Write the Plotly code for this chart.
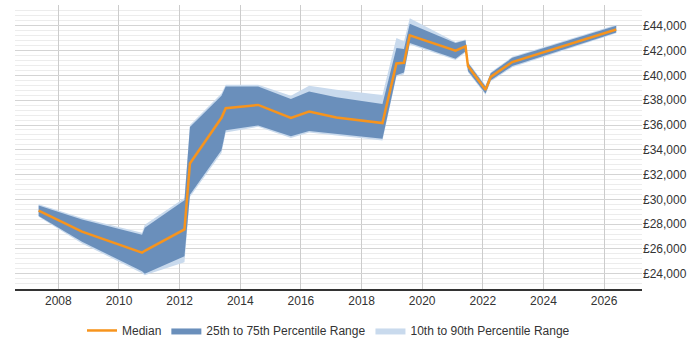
import plotly.graph_objects as go

# Data
years = [2007.35, 2008.78, 2010.76, 2010.85, 2012.16, 2012.34, 2013.38, 2013.52,
         2014.59, 2015.67, 2016.27, 2017.17, 2018.69, 2019.15, 2019.40, 2019.59,
         2021.10, 2021.43, 2021.51, 2022.09, 2022.26, 2022.97, 2026.40]
median = [29100, 27400, 25700, 25850, 27580, 32900, 36580, 37350,
          37620, 36580, 37080, 36600, 36160, 40970, 41020, 43230,
          42000, 42350, 40750, 38840, 39880, 41080, 43700]
p25 = [28650, 26580, 24210, 24000, 25410, 30380, 33970, 35570,
       35960, 35090, 35520, 35300, 34900, 40010, 40230, 42620,
       41340, 41950, 40350, 38550, 39610, 40750, 43470]
p75 = [29500, 28380, 27140, 27720, 29930, 35840, 38360, 39110,
       39110, 38100, 38710, 38230, 37700, 42220, 42140, 44160,
       42620, 42830, 41020, 39110, 40170, 41420, 44000]
p10 = [28600, 26450, 24050, 23870, 24930, 30200, 33750, 35400,
       35850, 34950, 35400, 35150, 34750, 39900, 40100, 42500,
       41250, 41850, 40250, 38450, 39500, 40650, 43400]
p90 = [29600, 28500, 27300, 27950, 30110, 36000, 38550, 39240,
       39240, 38360, 39160, 38840, 38410, 43020, 42750, 44610,
       42700, 42900, 41100, 39200, 40250, 41500, 44080]

light = '#c9daed'
dark = '#6a8fbb'
orange = '#f7941d'

fig = go.Figure()
fig.add_trace(go.Scatter(x=years, y=p90, mode='lines', line=dict(width=0, color=light),
                         showlegend=False, hoverinfo='skip'))
fig.add_trace(go.Scatter(x=years, y=p10, mode='lines', line=dict(width=0, color=light),
                         fill='tonexty', fillcolor=light, name='10th to 90th Percentile Range',
                         legendrank=3))
fig.add_trace(go.Scatter(x=years, y=p75, mode='lines', line=dict(width=0, color=dark),
                         showlegend=False, hoverinfo='skip'))
fig.add_trace(go.Scatter(x=years, y=p25, mode='lines', line=dict(width=0, color=dark),
                         fill='tonexty', fillcolor=dark, name='25th to 75th Percentile Range',
                         legendrank=2))
fig.add_trace(go.Scatter(x=years, y=median, mode='lines', line=dict(width=2.5, color=orange),
                         name='Median', legendrank=1))

fig.update_layout(
    width=700, height=350,
    margin=dict(l=15, r=58, t=5, b=58),
    paper_bgcolor='white', plot_bgcolor='white',
    font=dict(family='Liberation Sans, Arial, sans-serif', size=12, color='#333'),
    legend=dict(orientation='h', x=0.5, xanchor='center', y=-0.146, yanchor='middle',
                traceorder='normal',
                font=dict(size=12, color='#333'), itemwidth=30, tracegroupgap=0),
    xaxis=dict(range=[2006.57, 2027.25], tick0=2008, dtick=2, tickformat='d',
               showgrid=True, gridcolor='#cccccc', gridwidth=1,
               showline=True, linecolor='#333', linewidth=1.5,
               ticks='', zeroline=False, fixedrange=True),
    yaxis=dict(range=[22770, 45680], side='right', tick0=0, dtick=2000,
               tickprefix='£', tickformat=',d',
               showgrid=True, gridcolor='#d4d4d4', gridwidth=1,
               minor=dict(dtick=400, tick0=0, showgrid=True, gridcolor='#ececec', gridwidth=1),
               showline=False, zeroline=False, ticks='', fixedrange=True),
)

fig.write_html("out.html")
